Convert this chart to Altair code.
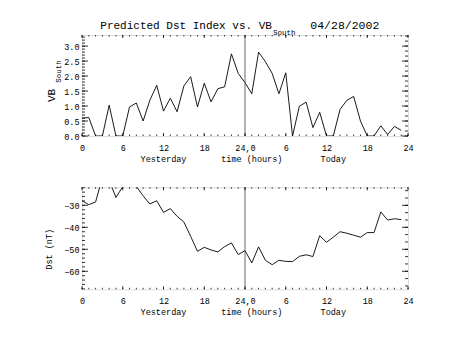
import altair as alt
import pandas as pd
import numpy as np

# ---------------- data ----------------
HOURS = list(range(48))
VB_SOUTH = [0.59, 0.62, 0.0, 0.0, 1.03, 0.0, 0.0, 0.97, 1.10, 0.50,
            1.20, 1.69, 0.83, 1.26, 0.81, 1.67, 1.98, 0.97, 1.76, 1.14,
            1.58, 1.64, 2.74, 2.09, 1.78, 1.41, 2.80, 2.48, 2.09, 1.41,
            2.11, 0.0, 0.99, 1.13, 0.28, 0.79, 0.0, 0.0, 0.89, 1.19,
            1.32, 0.50, 0.0, 0.0, 0.34, 0.05, 0.32, 0.19]
DST = [-27.9, -29.7, -28.5, -17.3, -18.7, -26.4, -21.5, -20.0, -21.4, -25.7,
       -29.4, -27.9, -33.2, -31.5, -35.0, -37.6, -44.1, -50.9, -49.1, -50.3,
       -51.2, -48.8, -47.1, -52.4, -50.6, -56.2, -48.9, -55.0, -57.0, -55.0,
       -55.5, -55.6, -53.2, -52.5, -53.3, -43.8, -46.8, -44.5, -42.0, -42.7,
       -43.6, -44.5, -42.4, -42.4, -33.0, -36.7, -36.1, -36.5]

X_TICK_VALUES = [0, 6, 12, 18, 24, 30, 36, 42, 48]
X_TICK_LABELS = ["0", "6", "12", "18", "24,0", "6", "12", "18", "24"]
X_MINOR = list(range(0, 49))
DIVIDER = [24]
VB_TICKS = [0.0, 0.5, 1.0, 1.5, 2.0, 2.5, 3.0]
DST_TICKS = [-60, -50, -40, -30]
DAY_LABELS = ["Yesterday", "time (hours)", "Today"]
DAY_LABEL_HOURS = [12, 25, 37]
TITLE = "Predicted Dst Index vs. VB"
TITLE_SUB = "South"
DATE = "04/28/2002"

# ---------------- style ----------------
W = 326
H1 = 101
H2 = 102
FONT = "Liberation Mono"
TICK_FS = 8.5

xs = alt.Scale(domain=[0, 48], nice=False, zero=False)
label_expr = " : ".join(
    f"datum.value == {v} ? '{l}'" for v, l in zip(X_TICK_VALUES, X_TICK_LABELS)
) + " : ''"

XAXIS = alt.Axis(values=X_TICK_VALUES, labelExpr=label_expr, ticks=False,
                 domain=False, grid=False, labelPadding=7, title=None,
                 labelFont=FONT, labelFontSize=TICK_FS, labelColor="black",
                 labelFlush=False, labelOverlap=False)


def yaxis(vals, fmt):
    return alt.Axis(values=vals, format=fmt, ticks=False, domain=False, grid=False,
                    labelPadding=3, title=None, labelFont=FONT, labelFontSize=TICK_FS,
                    labelColor="black", labelFlush=False, labelOverlap=False)


def xticks(vals, length, H, top):
    d = pd.DataFrame({"hour": vals})
    if top:
        y, y2 = alt.value(0), alt.value(length)
    else:
        y, y2 = alt.value(H), alt.value(H - length)
    return alt.Chart(d).mark_rule(color="black", strokeWidth=0.8).encode(
        x=alt.X("hour:Q", scale=xs, axis=XAXIS), y=y, y2=y2)


def yticks(vals, ys, ya, length, right, W=W):
    d = pd.DataFrame({"v": vals})
    if right:
        x, x2 = alt.value(W), alt.value(W - length)
    else:
        x, x2 = alt.value(0), alt.value(length)
    return alt.Chart(d).mark_rule(color="black", strokeWidth=0.8).encode(
        y=alt.Y("v:Q", scale=ys, axis=ya), x=x, x2=x2)


def text_layer(s, x, y, size, angle=0, align="center", baseline="middle"):
    d = pd.DataFrame({"s": [s]})
    kw = dict(font=FONT, fontSize=size, align=align, baseline=baseline, color="black")
    if angle:
        kw["angle"] = angle
    return alt.Chart(d).mark_text(**kw).encode(
        x=alt.value(x), y=alt.value(y), text="s:N")


def panel(values, H, ydom, yvals, yfmt, left_minor, right_minor, extra):
    ys = alt.Scale(domain=ydom, nice=False, zero=False)
    ya = yaxis(yvals, yfmt)
    df = pd.DataFrame({"hour": HOURS, "v": values})
    line = alt.Chart(df).mark_line(color="black", strokeWidth=0.9, clip=True).encode(
        x=alt.X("hour:Q", scale=xs, axis=XAXIS),
        y=alt.Y("v:Q", scale=ys, axis=ya),
    )
    div = alt.Chart(pd.DataFrame({"hour": DIVIDER})).mark_rule(color="#555", strokeWidth=0.9).encode(
        x=alt.X("hour:Q", scale=xs, axis=XAXIS))
    lo, hi = ydom
    lmin = list(np.arange(np.ceil(lo / left_minor) * left_minor, hi, left_minor))
    rmin = list(np.arange(np.ceil(lo / right_minor) * right_minor, hi, right_minor))
    layers = [
        line, div,
        xticks(X_MINOR, 1.5, H, False), xticks(X_MINOR, 1.5, H, True),
        xticks(X_TICK_VALUES, 3, H, False), xticks(X_TICK_VALUES, 3, H, True),
        yticks(lmin, ys, ya, 3, False), yticks(yvals, ys, ya, 6, False),
        yticks(rmin, ys, ya, 3, True), yticks(yvals, ys, ya, 6, True),
    ]
    dd = pd.DataFrame({"hour": DAY_LABEL_HOURS, "s": DAY_LABELS})
    layers.append(alt.Chart(dd).mark_text(font=FONT, fontSize=8.5, baseline="top", color="black").encode(
        x=alt.X("hour:Q", scale=xs, axis=XAXIS), y=alt.value(H + 19), text="s:N"))
    layers += extra
    return alt.layer(*layers).properties(width=W, height=H)


top_extra = [
    text_layer(TITLE, 18.3, -5.7, 11, align="left", baseline="alphabetic"),
    text_layer(TITLE_SUB, 191, -0.5, 7.5, align="left", baseline="alphabetic"),
    text_layer(DATE, 228.3, -5.7, 11.5, align="left", baseline="alphabetic"),
    text_layer("VB", -30.2, 60.5, 11, angle=270),
    text_layer(TITLE_SUB, -22.7, 36.5, 7.5, angle=270),
]
bot_extra = [
    text_layer("Dst (nT)", -33.2, 62, 8.5, angle=270),
]

top = panel(VB_SOUTH, H1, [0, 3.37], VB_TICKS, ".1f", 0.1, 1 / 6, top_extra)
bot = panel(DST, H2, [-68.2, -21.8], DST_TICKS, "d", 2, 10 / 3, bot_extra)

chart = alt.vconcat(top, bot, spacing=51.3, bounds="flush").properties(
    padding={"left": 44, "top": 19, "right": 5, "bottom": 5}
).configure_view(stroke="black", strokeWidth=1).configure(background="white")

chart.save("out.html", embed_options={"renderer": "svg", "actions": False})
